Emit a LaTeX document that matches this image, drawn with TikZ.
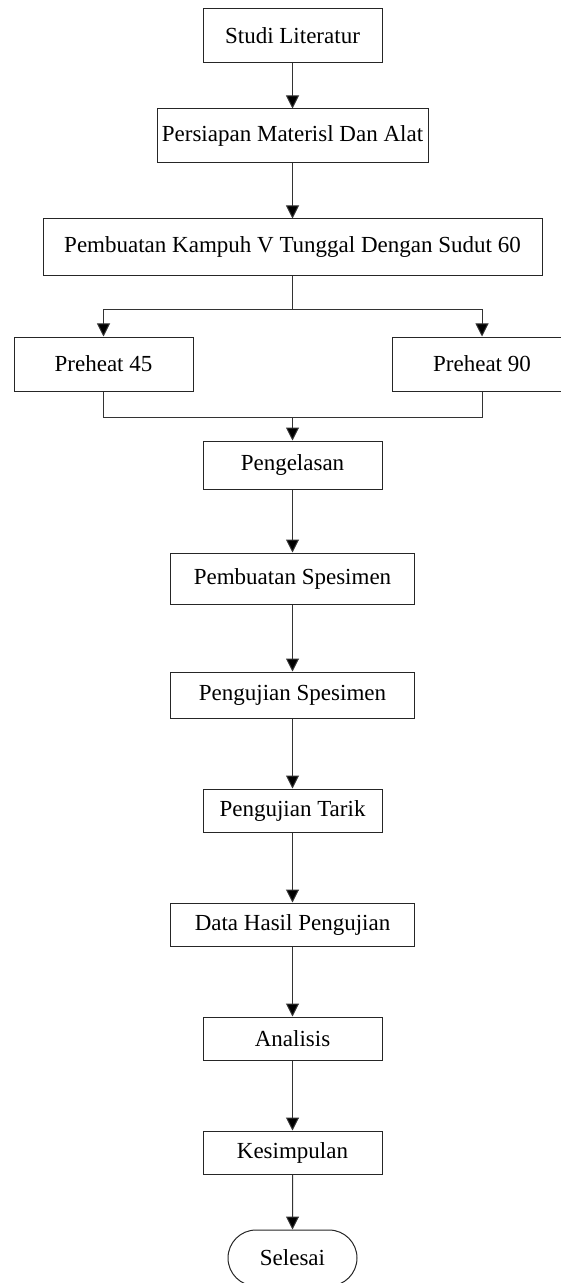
\documentclass[tikz,border=0pt]{standalone}
\usepackage{fontspec}
\setmainfont{Liberation Serif}
\usetikzlibrary{arrows.meta, positioning, shapes.misc}
\tikzset{
  procbox/.style={rectangle, draw=black!85, line width=0.5pt, inner sep=0pt, minimum width=#1, font=\fontsize{11.5}{13}\selectfont},
  endnode/.style={rounded rectangle, draw=black!85, line width=0.5pt, inner sep=0pt, minimum width=64.5pt, minimum height=28pt, font=\fontsize{11.5}{13}\selectfont},
  flowline/.style={draw=black!80, line width=0.5pt},
  flowarrow/.style={flowline, -{Triangle[width=6.5pt,length=6.5pt,fill=black]}},
}
\begin{document}
\begin{tikzpicture}[x=0.5pt, y=-0.5pt]
\useasboundingbox (0,0) rectangle (561,1283);
% process steps
\node[procbox=89.5pt, minimum height=27pt] (studi) at (292.5,36) {Studi Literatur};
\node[procbox=135.5pt, minimum height=27pt] (persiapan) at (292.5,136) {Persiapan Materisl Dan Alat};
\node[procbox=249.5pt, minimum height=28.5pt] (kampuh) at (292.5,247.5) {Pembuatan Kampuh V Tunggal Dengan Sudut 60};
\node[procbox=89.5pt, minimum height=27pt] (pre45) at (103.5,364) {Preheat 45};
\node[procbox=89.5pt, minimum height=27pt] (pre90) at (482,364) {Preheat 90};
\node[procbox=89.5pt, minimum height=24pt] (las) at (292.5,465) {Pengelasan};
\node[procbox=122pt, minimum height=25.5pt] (spesimen) at (292.5,578.5) {Pembuatan Spesimen};
\node[procbox=122pt, minimum height=23pt] (ujispes) at (292.5,695) {Pengujian Spesimen};
\node[procbox=89.5pt, minimum height=21.5pt] (tarik) at (292.5,810.5) {Pengujian Tarik};
\node[procbox=122pt, minimum height=21.5pt] (data) at (292.5,924.5) {Data Hasil Pengujian};
\node[procbox=89.5pt, minimum height=21.5pt] (analisis) at (292.5,1038.5) {Analisis};
\node[procbox=89.5pt, minimum height=21.5pt] (kesimpulan) at (292.5,1152.5) {Kesimpulan};
\node[endnode] (selesai) at (292.5,1258) {Selesai};
% branch and merge points
\coordinate (split) at (292.5,310);
\coordinate (merge) at (292.5,417);
% connectors
\draw[flowarrow] (studi) -- (persiapan);
\draw[flowarrow] (persiapan) -- (kampuh);
\draw[flowline] (kampuh) -- (split);
\draw[flowarrow] (split) -| (pre45);
\draw[flowarrow] (split) -| (pre90);
\draw[flowline] (pre45) |- (merge);
\draw[flowline] (pre90) |- (merge);
\draw[flowarrow] (merge) -- (las);
\foreach \a/\b in {las/spesimen, spesimen/ujispes, ujispes/tarik, tarik/data, data/analisis, analisis/kesimpulan, kesimpulan/selesai}
  \draw[flowarrow] (\a) -- (\b);
\end{tikzpicture}
\end{document}
